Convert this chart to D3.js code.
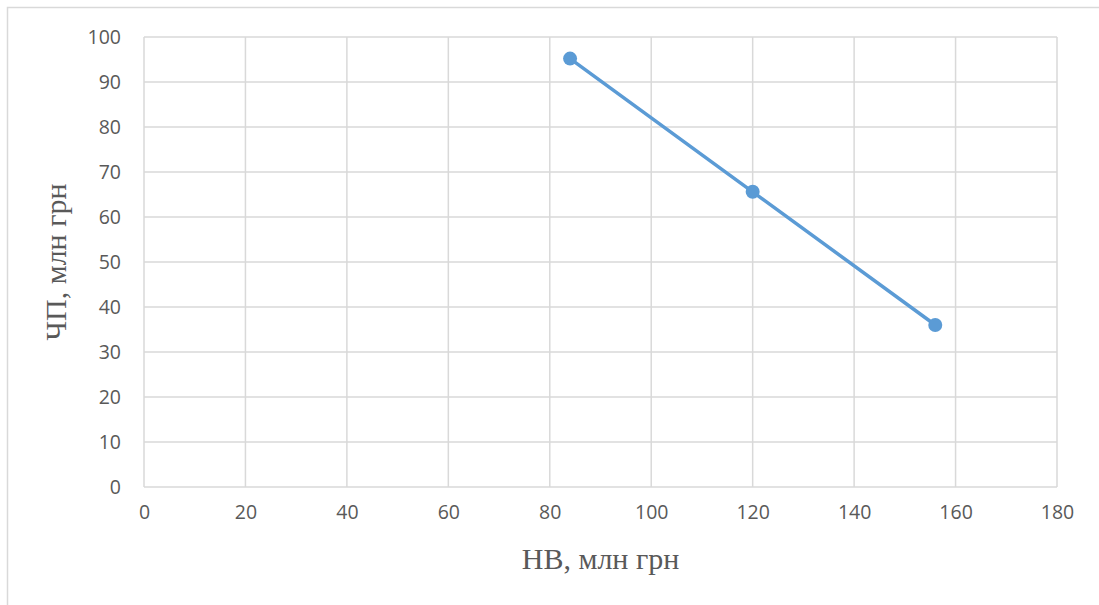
<!DOCTYPE html>
<html>
<head>
<meta charset="utf-8">
<script src="https://cdn.jsdelivr.net/npm/d3@7"></script>
<style>
  body { margin: 0; background: #fff; }
  svg { display: block; }
</style>
</head>
<body>
<div class="chart-container"></div>
<script>
// data
const xValues = [84, 120, 156];
const yValues = [95.2, 65.6, 36.0];
const xTicks = [0, 20, 40, 60, 80, 100, 120, 140, 160, 180];
const yTicks = [0, 10, 20, 30, 40, 50, 60, 70, 80, 90, 100];
const xTitle = 'НВ, млн грн';
const yTitle = 'ЧП, млн грн';

const width = 1099;
const height = 605;
const plot = { left: 144, top: 37, right: 1057, bottom: 487 };

const svg = d3.select('.chart-container')
  .append('svg')
  .attr('width', width)
  .attr('height', height);

// chart frame (cut off at right and bottom in the reference)
svg.append('rect')
  .attr('x', 7.5).attr('y', 7.5)
  .attr('width', 1200).attr('height', 700)
  .attr('fill', 'none')
  .attr('stroke', '#d9d9d9')
  .attr('stroke-width', 1.5);

const x = d3.scaleLinear().domain([0, 180]).range([plot.left, plot.right]);
const y = d3.scaleLinear().domain([0, 100]).range([plot.bottom, plot.top]);

// gridlines
svg.append('g')
  .selectAll('line')
  .data(xTicks)
  .enter()
  .append('line')
  .attr('x1', d => x(d)).attr('x2', d => x(d))
  .attr('y1', plot.top).attr('y2', plot.bottom)
  .attr('stroke', '#d9d9d9')
  .attr('stroke-width', 1.5);

svg.append('g')
  .selectAll('line')
  .data(yTicks)
  .enter()
  .append('line')
  .attr('x1', plot.left).attr('x2', plot.right)
  .attr('y1', d => y(d)).attr('y2', d => y(d))
  .attr('stroke', '#d9d9d9')
  .attr('stroke-width', 1.5);

// axes (labels only, the gridlines do the rest)
const xAxis = svg.append('g')
  .attr('transform', `translate(0, ${plot.bottom})`)
  .call(d3.axisBottom(x).tickValues(xTicks).tickSize(0).tickPadding(26));
const yAxis = svg.append('g')
  .attr('transform', `translate(${plot.left}, 0)`)
  .call(d3.axisLeft(y).tickValues(yTicks).tickSize(0).tickPadding(23));

[xAxis, yAxis].forEach(a => {
  a.attr('font-family', null).attr('font-size', null);
  a.select('.domain').remove();
  a.selectAll('text')
    .style('font-family', '"Open Sans", sans-serif')
    .style('font-size', '19.5px')
    .attr('fill', '#595959');
});
xAxis.selectAll('text').attr('dy', '0.32em').attr('y', 26);

// line + markers
const points = xValues.map((v, i) => ({ x: v, y: yValues[i] }));

svg.append('path')
  .datum(points)
  .attr('fill', 'none')
  .attr('stroke', '#5b9bd5')
  .attr('stroke-width', 3.5)
  .attr('stroke-linecap', 'round')
  .attr('d', d3.line().x(d => x(d.x)).y(d => y(d.y)));

svg.append('g')
  .selectAll('circle')
  .data(points)
  .enter()
  .append('circle')
  .attr('cx', d => x(d.x))
  .attr('cy', d => y(d.y))
  .attr('r', 7)
  .attr('fill', '#5b9bd5');

// axis titles
svg.append('text')
  .attr('x', (plot.left + plot.right) / 2)
  .attr('y', 569)
  .attr('text-anchor', 'middle')
  .attr('font-family', '"Liberation Serif", "Times New Roman", serif')
  .attr('font-size', '30px')
  .attr('fill', '#595959')
  .text(xTitle);

svg.append('text')
  .attr('transform', `translate(66, ${(plot.top + plot.bottom) / 2}) rotate(-90)`)
  .attr('text-anchor', 'middle')
  .attr('font-family', '"Liberation Serif", "Times New Roman", serif')
  .attr('font-size', '30px')
  .attr('fill', '#595959')
  .text(yTitle);
</script>
</body>
</html>
